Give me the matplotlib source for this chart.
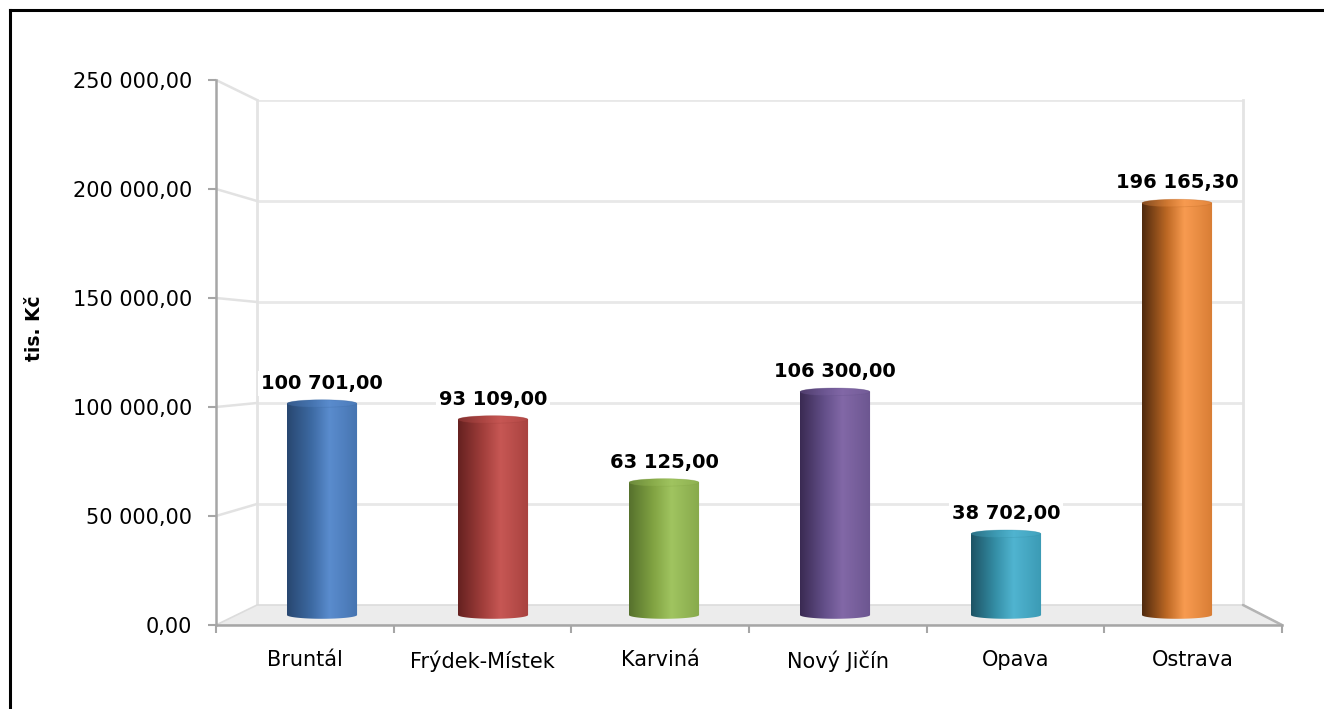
import numpy as np
import matplotlib
matplotlib.use("Agg")
import matplotlib.pyplot as plt
from matplotlib.colors import LinearSegmentedColormap
from matplotlib.patches import Polygon, Ellipse, ConnectionPatch
from matplotlib.lines import Line2D

# data
districts = ['Bruntál', 'Frýdek-Místek', 'Karviná', 'Nový Jičín', 'Opava', 'Ostrava']
values = [100701.00, 93109.00, 63125.00, 106300.00, 38702.00, 196165.30]
y_ticks = [0, 50000, 100000, 150000, 200000, 250000]
y_label = 'tis. Kč'

# cylinder shading: dark edge -> mid -> highlight -> right edge
shades = [
    ['#284770', '#3d6aa3', '#5a8cce', '#4674b0'],
    ['#652120', '#a13e3b', '#c75754', '#a8423f'],
    ['#56712d', '#82a443', '#a0c460', '#87a94b'],
    ['#3a2a52', '#64508a', '#8268a7', '#6c5690'],
    ['#1d5364', '#358fa7', '#50b4d0', '#3b9ab4'],
    ['#4f2a0e', '#bd6824', '#f89b50', '#d87d34'],
]


def fmt(v):
    return f'{v:,.2f}'.replace(',', ' ').replace('.', ',')


W, H = 1324, 709


def frac(l, t, r, b):
    return [l / W, 1 - b / H, (r - l) / W, (b - t) / H]


plt.rcParams['font.family'] = 'DejaVu Sans'
fig = plt.figure(figsize=(W / 100, H / 100), dpi=100)

n = len(districts)
xlo, xhi = -0.5, n - 0.5
ymax = y_ticks[-1]

# back wall
ax_back = fig.add_axes(frac(257, 100, 1243, 605), zorder=-3)
ax_back.set_xlim(xlo, xhi)
ax_back.set_ylim(0, ymax)
ax_back.set_facecolor('none')
for s in ['top', 'bottom']:
    ax_back.spines[s].set_visible(False)
for s in ['left', 'right']:
    ax_back.spines[s].set_color('#e4e4e4')
    ax_back.spines[s].set_linewidth(2)
ax_back.set_xticks([])
ax_back.set_yticks(y_ticks[1:])
ax_back.tick_params(left=False, labelleft=False)
ax_back.grid(axis='y', color='#e8e8e8', linewidth=2)

# front axis (ticks and labels)
ax_front = fig.add_axes(frac(216, 80, 1282, 625), zorder=0)
ax_front.set_facecolor('none')
ax_front.set_xlim(xlo, xhi)
ax_front.set_ylim(0, ymax)
for s in ['top', 'right']:
    ax_front.spines[s].set_visible(False)
for s in ['left', 'bottom']:
    ax_front.spines[s].set_color('#a6a6a6')
    ax_front.spines[s].set_linewidth(1.8)
ax_front.set_yticks(y_ticks)
ax_front.set_yticklabels([fmt(v) for v in y_ticks])
ax_front.set_xticks(np.arange(xlo, xhi + 0.01, 1.0))
ax_front.set_xticklabels([])
ax_front.set_xticks(np.arange(n), minor=True)
ax_front.set_xticklabels(districts, minor=True)
ax_front.tick_params(axis='x', which='major', length=6, width=1.5, color='#a6a6a6')
ax_front.tick_params(axis='x', which='minor', length=0, pad=18, labelsize=15)
ax_front.tick_params(axis='y', length=6, width=1.5, color='#a6a6a6', pad=11, labelsize=15)
ax_front.set_ylabel(y_label, fontsize=13.5, fontweight='bold')
ax_front.yaxis.set_label_coords(-0.161, 0.545)

# floor and depth connectors
to_fig = fig.transFigure.inverted()
corners = [ax_front.transData.transform((xlo, 0)), ax_front.transData.transform((xhi, 0)),
           ax_back.transData.transform((xhi, 0)), ax_back.transData.transform((xlo, 0))]
floor = Polygon(to_fig.transform(corners), closed=True, transform=fig.transFigure,
                facecolor='#ececec', edgecolor='#dcdcdc', linewidth=1.2, zorder=-2)
fig.add_artist(floor)
for v in y_ticks[1:]:
    con = ConnectionPatch(xyA=(xlo, v), coordsA=ax_front.transData,
                          xyB=(xlo, v), coordsB=ax_back.transData,
                          color='#e2e2e2', linewidth=1.8, zorder=-2)
    fig.add_artist(con)
con = ConnectionPatch(xyA=(xhi, 0), coordsA=ax_front.transData,
                      xyB=(xhi, 0), coordsB=ax_back.transData,
                      color='#b4b4b4', linewidth=1.8, zorder=-1)
fig.add_artist(con)

# middle plane with the cylinders
ax = fig.add_axes(frac(236.5, 90, 1262.5, 615), zorder=1)
ax.set_facecolor('none')
ax.axis('off')

w = 0.41
ry = 1800
t = np.linspace(0, np.pi, 40)
for i, (v, c) in enumerate(zip(values, shades)):
    x0, x1 = i - w / 2, i + w / 2
    left = [(x0, v), (x0, 0)]
    bottom = list(zip(i - w / 2 * np.cos(t), -ry * np.sin(t)))
    right = [(x1, 0), (x1, v)]
    top = list(zip(i + w / 2 * np.cos(t), v + ry * np.sin(t)))
    outline = Polygon(left + bottom + right + top, closed=True,
                      facecolor='none', edgecolor='none')
    ax.add_patch(outline)
    cmap = LinearSegmentedColormap.from_list(f'c{i}', list(zip([0, 0.35, 0.6, 1.0], c)))
    grad = np.linspace(0, 1, 256).reshape(1, -1)
    im = ax.imshow(grad, cmap=cmap, aspect='auto', interpolation='bicubic',
                   extent=(x0, x1, -ry, v + ry), zorder=2)
    im.set_clip_path(outline)
    im.set_clip_box(fig.bbox)
    ax.add_patch(Ellipse((i, v), w * 0.99, 2 * ry, facecolor=c[2],
                         edgecolor=c[1], linewidth=0.6, alpha=0.3, zorder=3))
    ax.annotate(fmt(v), (i, v + ry), xytext=(0, 5), textcoords='offset points',
                ha='center', va='bottom', fontsize=14, fontweight='bold', zorder=5,
                bbox=dict(boxstyle='square,pad=0.15', facecolor='white', edgecolor='none'))

ax.set_xlim(xlo, xhi)
ax.set_ylim(0, ymax)

# chart border (top and left visible)
fig.add_artist(Line2D([10 / W, 1], [1 - 10 / H, 1 - 10 / H], color='black', linewidth=2.2,
                      transform=fig.transFigure))
fig.add_artist(Line2D([10 / W, 10 / W], [0, 1 - 10 / H], color='black', linewidth=2.2,
                      transform=fig.transFigure))

fig.savefig('out.png', dpi=100, facecolor='white')
